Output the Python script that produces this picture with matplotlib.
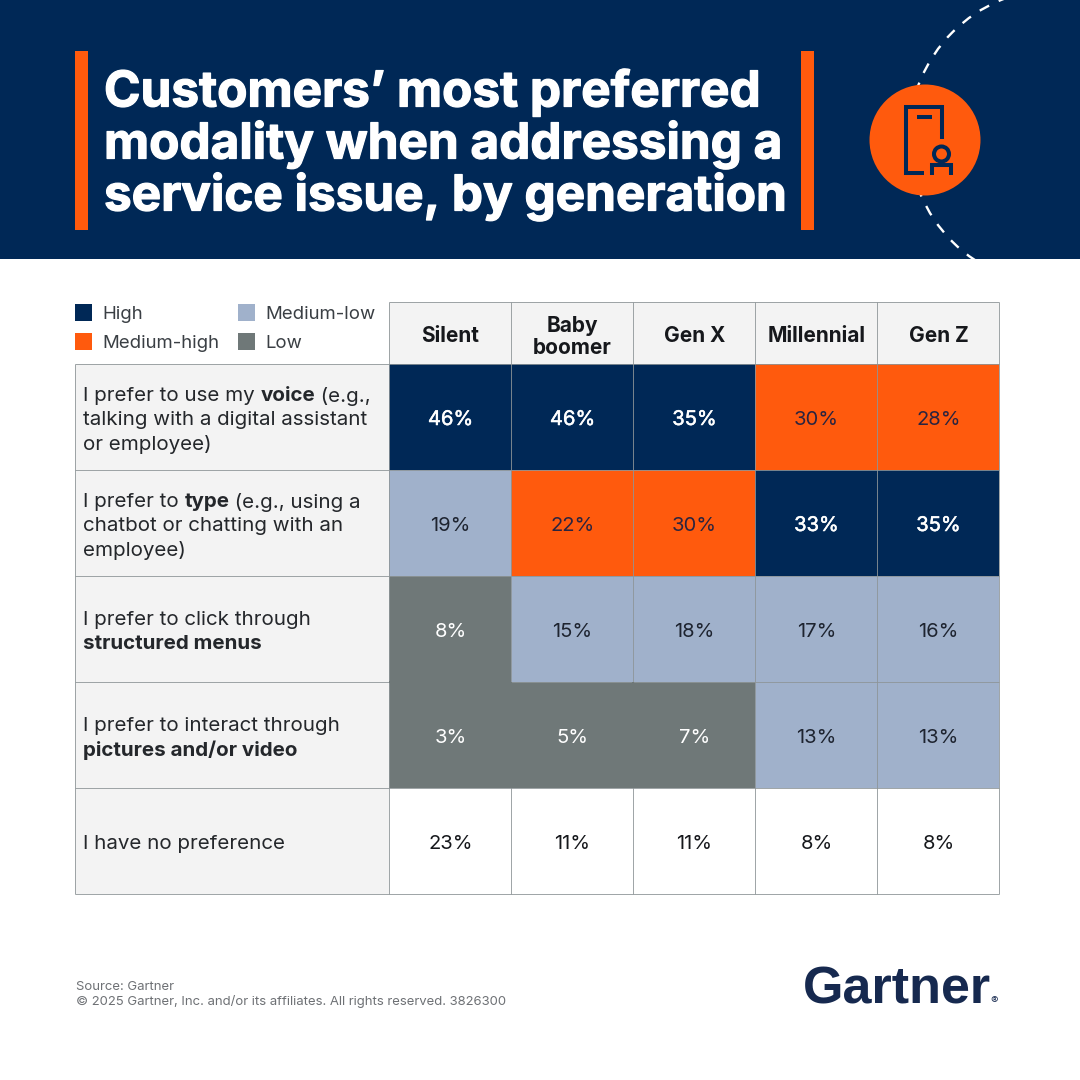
import numpy as np
import matplotlib
matplotlib.use("Agg")
import matplotlib.pyplot as plt
import matplotlib.patheffects as pe
from matplotlib.colors import ListedColormap
from matplotlib.patches import Rectangle, Circle, Arc

plt.rcParams['font.family'] = ['Inter', 'DejaVu Sans']

# Data
generaciones = ["Silent", "Baby\nboomer", "Gen X", "Millennial", "Gen Z"]
valores = np.array([
    [46, 46, 35, 30, 28],
    [19, 22, 30, 33, 35],
    [8, 15, 18, 17, 16],
    [3, 5, 7, 13, 13],
    [23, 11, 11, 8, 8],
])
# 0 high, 1 medium-high, 2 medium-low, 3 low, 4 sin color
niveles = np.array([
    [0, 0, 0, 1, 1],
    [2, 1, 1, 0, 0],
    [3, 2, 2, 2, 2],
    [3, 3, 3, 2, 2],
    [4, 4, 4, 4, 4],
])
# (texto, negrita) por linea
filas_texto = [
    [[("I prefer to use my ", False), ("voice", True), (" (e.g.,", False)],
     [("talking with a digital assistant", False)],
     [("or employee)", False)]],
    [[("I prefer to ", False), ("type", True), (" (e.g., using a", False)],
     [("chatbot or chatting with an", False)],
     [("employee)", False)]],
    [[("I prefer to click through", False)],
     [("structured menus", True)]],
    [[("I prefer to interact through", False)],
     [("pictures and/or video", True)]],
    [[("I have no preference", False)]],
]
leyenda = ["High", "Medium-high", "Medium-low", "Low"]
titulo = ["Customers\u2019 most preferred",
          "modality when addressing a",
          "service issue, by generation"]
fuente = ["Source: Gartner",
          "\u00a9 2025 Gartner, Inc. and/or its affiliates. All rights reserved. 3826300"]

# Colores
NAVY = "#002856"
NARANJA = "#FF5A0D"
AZUL_CLARO = "#A0B1CB"
GRIS = "#6F7878"
FONDO = "#F3F3F3"
LINEA = "#8E9598"
TEXTO = "#16181C"
colores = [NAVY, NARANJA, AZUL_CLARO, GRIS, "#FFFFFF"]
color_texto = ["white", "#2A2440", "#1E2430", "white", TEXTO]

# Geometria en pixeles
x_bordes = np.array([389, 511, 633, 755, 877, 999])
y_bordes = np.array([364, 470, 576, 682, 788, 894])
x_izq = 75
y_sup = 302

fig = plt.figure(figsize=(10.8, 10.8), dpi=100)
ax = fig.add_axes([0, 0, 1, 1])
ax.set_xlim(0, 1080)
ax.set_ylim(1080, 0)
ax.axis("off")


def linea_mixta(x, y, partes, size, color):
    """Escribe una linea con tramos normales y en negrita."""
    r = fig.canvas.get_renderer()
    for texto, negrita in partes:
        ax.text(x, y, texto, fontsize=size, color=color, va="center_baseline", ha="left",
                fontweight="bold" if negrita else "normal")
        # los espacios al borde no cuentan en el bbox, se miden aparte
        ancho = ax.text(0, 0, "|" + texto + "|", fontsize=size,
                        fontweight="bold" if negrita else "normal")
        barra = ax.text(0, 0, "||", fontsize=size,
                        fontweight="bold" if negrita else "normal")
        x += ancho.get_window_extent(r).width - barra.get_window_extent(r).width
        ancho.remove()
        barra.remove()


# Cabecera
ax.add_patch(Rectangle((0, 0), 1080, 259, color=NAVY, lw=0, zorder=0))
ax.add_patch(Rectangle((75, 51), 13, 179, color=NARANJA, lw=0))
ax.add_patch(Rectangle((801, 51), 13, 179, color=NARANJA, lw=0))
for i, linea in enumerate(titulo):
    ax.text(104, 88 + 52 * i, linea, fontsize=35.6, fontweight="bold", color="white",
            va="center_baseline", ha="left",
            path_effects=[pe.withStroke(linewidth=0.9, foreground="white")])

# Arco punteado e icono
arco = Arc((1057, 137), 296, 296, color="white", lw=1.7, linestyle=(0, (4.5, 4.5)), zorder=1)
ax.add_patch(arco)
arco.set_clip_path(Rectangle((0, 0), 1080, 259, transform=ax.transData))
ax.add_patch(Circle((925, 140), 55.5, color=NARANJA, lw=0, zorder=2))
lw_icono = 2.9
ax.plot([942, 942, 906, 906, 924], [139, 107, 107, 173, 173], color=NAVY, lw=lw_icono,
        solid_joinstyle="miter", solid_capstyle="butt", zorder=3)
ax.plot([917, 932], [117, 117], color=NAVY, lw=lw_icono, solid_capstyle="butt", zorder=3)
ax.plot([932, 932, 951, 951], [175, 165, 165, 175], color=NAVY, lw=lw_icono,
        solid_joinstyle="miter", solid_capstyle="butt", zorder=3)
ax.add_patch(Circle((941.5, 154), 7.5, fc=NARANJA, ec=NAVY, lw=lw_icono, zorder=3))

# Leyenda
pos_leyenda = [(75, 304), (75, 333), (238, 304), (238, 333)]
for (lx, ly), nombre, color in zip(pos_leyenda, leyenda, colores):
    ax.add_patch(Rectangle((lx, ly), 17, 17, color=color, lw=0))
    ax.text(lx + 27, ly + 8.5, nombre, fontsize=13.4, color="#3A3F44", va="center_baseline", ha="left")

# Fondos de cabecera de tabla y de etiquetas
ax.add_patch(Rectangle((x_bordes[0], y_sup), x_bordes[-1] - x_bordes[0], y_bordes[0] - y_sup,
                       color=FONDO, lw=0))
ax.add_patch(Rectangle((x_izq, y_bordes[0]), x_bordes[0] - x_izq, y_bordes[-1] - y_bordes[0],
                       color=FONDO, lw=0))

# Celdas
mapa = ListedColormap(colores)
ax.pcolormesh(x_bordes, y_bordes, niveles, cmap=mapa, vmin=-0.5, vmax=4.5, zorder=1)
ax.set_xlim(0, 1080)
ax.set_ylim(1080, 0)

# Lineas de la tabla
ax.hlines(y_bordes, x_izq, x_bordes[-1], color=LINEA, lw=0.6, zorder=2)
ax.hlines(y_sup, x_bordes[0], x_bordes[-1], color=LINEA, lw=0.6, zorder=2)
ax.vlines(x_bordes, y_sup, y_bordes[-1], color=LINEA, lw=0.6, zorder=2)
ax.vlines(x_izq, y_bordes[0], y_bordes[-1], color=LINEA, lw=0.6, zorder=2)

# El bloque gris se ve continuo, sin lineas entre celdas iguales
for i in range(niveles.shape[0]):
    for j in range(niveles.shape[1]):
        if niveles[i, j] != 3:
            continue
        if j + 1 < niveles.shape[1] and niveles[i, j + 1] == 3:
            ax.vlines(x_bordes[j + 1], y_bordes[i], y_bordes[i + 1], color=GRIS, lw=1.5, zorder=2.5)
        if i + 1 < niveles.shape[0] and niveles[i + 1, j] == 3:
            ax.hlines(y_bordes[i + 1], x_bordes[j], x_bordes[j + 1], color=GRIS, lw=1.5, zorder=2.5)

# Nombres de generacion
x_centros = (x_bordes[:-1] + x_bordes[1:]) / 2
y_centros = (y_bordes[:-1] + y_bordes[1:]) / 2
for xc, nombre in zip(x_centros, generaciones):
    lineas = nombre.split("\n")
    for k, parte in enumerate(lineas):
        ax.text(xc + 0.5, 334.5 + (k - (len(lineas) - 1) / 2) * 22, parte, fontsize=15, fontweight="bold",
                color=TEXTO, ha="center", va="center_baseline")

# Valores, el blanco sobre navy se ve algo mas grueso
for i, yc in enumerate(y_centros):
    for j, xc in enumerate(x_centros):
        col = color_texto[niveles[i, j]]
        efecto = [pe.withStroke(linewidth=0.35, foreground=col)] if niveles[i, j] == 0 else None
        ax.text(xc + 0.5, yc + 1, f"{valores[i, j]}%", fontsize=14.5, color=col,
                ha="center", va="center_baseline", zorder=3, path_effects=efecto)

# Etiquetas de fila
fig.canvas.draw()
for yc, lineas in zip(y_centros, filas_texto):
    for k, partes in enumerate(lineas):
        linea_mixta(83, yc + 1 + (k - (len(lineas) - 1) / 2) * 24, partes, 14.8, "#24272B")

# Pie
for i, linea in enumerate(fuente):
    ax.text(76, 985 + 15 * i, linea, fontsize=9.45, color="#6E7175", va="center_baseline", ha="left")

# Marca
ax.text(803, 984, "Gartner", fontsize=37.5, fontweight="bold", color="#16294F",
        family=["Liberation Sans", "DejaVu Sans"], va="center_baseline", ha="left")
ax.text(998, 1000, "\u00ae", fontsize=8, color="#16294F", va="center_baseline", ha="right")

fig.savefig("out.png", dpi=100)
